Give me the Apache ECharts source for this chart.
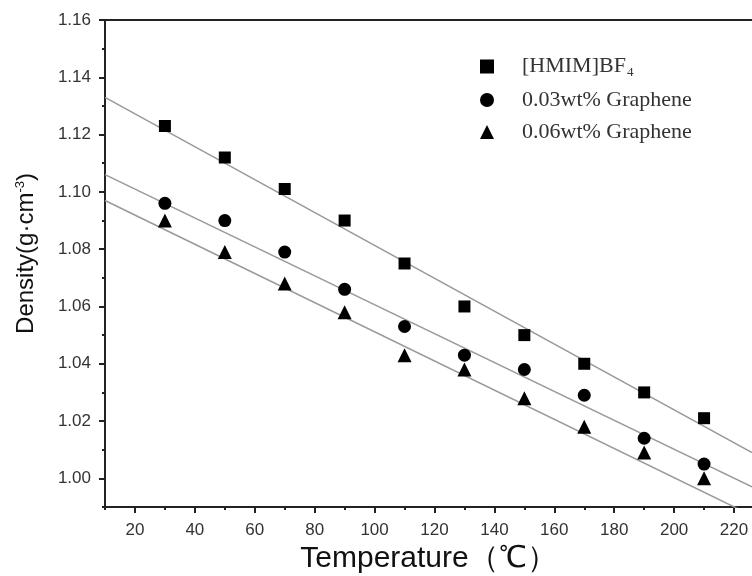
<!DOCTYPE html>
<html><head><meta charset="utf-8">
<script src="https://cdn.jsdelivr.net/npm/echarts@6/dist/echarts.min.js"></script>
<style>html,body{margin:0;padding:0;background:#fff}#c{width:752px;height:576px}</style>
</head><body><div id="c"></div>
<script>
const temperatures = [30, 50, 70, 90, 110, 130, 150, 170, 190, 210];
const densityIL = [1.123, 1.112, 1.101, 1.090, 1.075, 1.060, 1.050, 1.040, 1.030, 1.021];
const density003 = [1.096, 1.090, 1.079, 1.066, 1.053, 1.043, 1.038, 1.029, 1.014, 1.005];
const density006 = [1.090, 1.079, 1.068, 1.058, 1.043, 1.038, 1.028, 1.018, 1.009, 1.000];
const fitX = [10, 226];
const fitIL = [1.133, 1.009];
const fit003 = [1.106, 0.997];
const fit006 = [1.097, 0.987];
const xTickLabels = [20, 40, 60, 80, 100, 120, 140, 160, 180, 200, 220];
const xMinorTicks = [10, 30, 50, 70, 90, 110, 130, 150, 170, 190, 210];
const yTickLabels = [1.00, 1.02, 1.04, 1.06, 1.08, 1.10, 1.12, 1.14, 1.16];
const yMinorTicks = [0.99, 1.01, 1.03, 1.05, 1.07, 1.09, 1.11, 1.13, 1.15];
const seriesNames = ['[HMIM]BF4', '0.03wt% Graphene', '0.06wt% Graphene'];

const pair = (xs, ys) => xs.map((x, i) => [x, ys[i]]);
const axisColor = '#222';
const sans = 'Liberation Sans, Arial, sans-serif';
const serif = 'Liberation Serif, Times New Roman, serif';
const labelFont = { fontFamily: sans, fontSize: 17, color: '#333' };

const chart = echarts.init(document.getElementById('c'));
chart.setOption({
  animation: false,
  backgroundColor: '#fff',
  grid: { left: 105, top: 20, right: 0, bottom: 69, containLabel: false, outerBoundsMode: 'none' },
  xAxis: [
    {
      type: 'value', min: 10, max: 226, position: 'bottom',
      name: 'Temperature（℃）', nameLocation: 'middle', nameGap: 32,
      nameTextStyle: { fontFamily: sans, fontSize: 30, color: '#111' },
      axisLine: { show: true, lineStyle: { color: axisColor, width: 2 } },
      axisTick: { show: true, customValues: xTickLabels, length: 6, lineStyle: { color: axisColor, width: 2 } },
      axisLabel: { customValues: xTickLabels, margin: 15, ...labelFont },
      splitLine: { show: false }
    },
    {
      type: 'value', min: 10, max: 226, position: 'bottom', gridIndex: 0,
      axisLine: { show: false },
      axisTick: { show: true, customValues: xMinorTicks, length: 3, lineStyle: { color: axisColor, width: 2 } },
      axisLabel: { show: false }, splitLine: { show: false }
    },
    {
      type: 'value', min: 10, max: 226, position: 'top',
      axisLine: { show: true, lineStyle: { color: axisColor, width: 2 } },
      axisTick: { show: false }, axisLabel: { show: false }, splitLine: { show: false }
    }
  ],
  yAxis: [
    {
      type: 'value', min: 0.99, max: 1.16, position: 'left',
      name: 'Density(g·cm{sup|-3})', nameLocation: 'middle', nameGap: 66,
      nameTextStyle: {
        fontFamily: sans, fontSize: 24, color: '#111', padding: [0, 0, 0, 20],
        rich: { sup: { fontFamily: sans, fontSize: 13, color: '#111', verticalAlign: 'top', padding: [0, 0, 12, 0] } }
      },
      axisLine: { show: true, lineStyle: { color: axisColor, width: 2 } },
      axisTick: { show: true, customValues: yTickLabels, length: 6, lineStyle: { color: axisColor, width: 2 } },
      axisLabel: { customValues: yTickLabels, margin: 14, formatter: v => v.toFixed(2), ...labelFont },
      splitLine: { show: false }
    },
    {
      type: 'value', min: 0.99, max: 1.16, position: 'left',
      axisLine: { show: false },
      axisTick: { show: true, customValues: yMinorTicks, length: 3, lineStyle: { color: axisColor, width: 2 } },
      axisLabel: { show: false }, splitLine: { show: false }
    }
  ],
  legend: {
    data: seriesNames,
    orient: 'vertical', left: 475, top: 49, itemGap: 10,
    itemWidth: 14, itemHeight: 14,
    formatter: n => n === seriesNames[0] ? '{a|[HMIM]BF}{sub|4}' : '{a|' + n + '}',
    textStyle: {
      color: '#333', padding: [0, 0, 0, 23],
      rich: {
        a: { fontFamily: serif, fontSize: 22, lineHeight: 24, color: '#333' },
        sub: { fontFamily: serif, fontSize: 13, lineHeight: 24, color: '#333', padding: [12, 0, 0, 1] }
      }
    }
  },
  series: [
    { type: 'line', data: pair(fitX, fitIL), symbol: 'none', silent: true, lineStyle: { color: '#999', width: 1.5 }, z: 1 },
    { type: 'line', data: pair(fitX, fit003), symbol: 'none', silent: true, lineStyle: { color: '#999', width: 1.5 }, z: 1 },
    { type: 'line', data: pair(fitX, fit006), symbol: 'none', silent: true, lineStyle: { color: '#999', width: 1.5 }, z: 1 },
    { name: seriesNames[0], type: 'scatter', data: pair(temperatures, densityIL), symbol: 'rect', symbolSize: 12, itemStyle: { color: '#000', opacity: 1 }, z: 3 },
    { name: seriesNames[1], type: 'scatter', data: pair(temperatures, density003), symbol: 'circle', symbolSize: 13, itemStyle: { color: '#000', opacity: 1 }, z: 3 },
    { name: seriesNames[2], type: 'scatter', data: pair(temperatures, density006), symbol: 'triangle', symbolSize: 14, itemStyle: { color: '#000', opacity: 1 }, z: 3 }
  ]
});
</script></body></html>
